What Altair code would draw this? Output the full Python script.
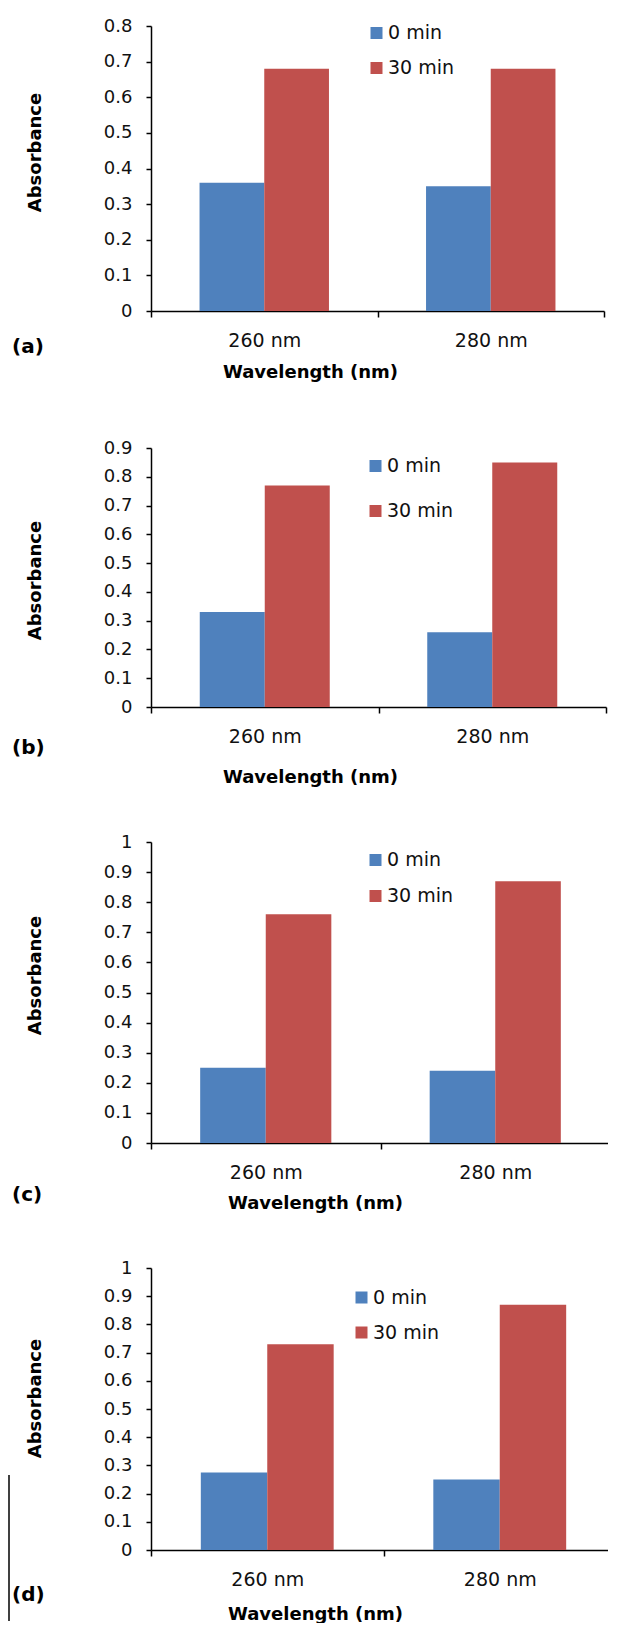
import altair as alt
import pandas as pd

# ---- data ----
categories = ["260 nm", "280 nm"]
series = ["0 min", "30 min"]
colors = ["#4F81BD", "#C0504D"]

a_0min = [0.36, 0.35]
a_30min = [0.68, 0.68]
b_0min = [0.33, 0.26]
b_30min = [0.77, 0.85]
c_0min = [0.25, 0.24]
c_30min = [0.76, 0.87]
d_0min = [0.275, 0.25]
d_30min = [0.73, 0.87]

ticks_a = [0, 0.1, 0.2, 0.3, 0.4, 0.5, 0.6, 0.7, 0.8]
ticks_b = [0, 0.1, 0.2, 0.3, 0.4, 0.5, 0.6, 0.7, 0.8, 0.9]
ticks_cd = [0, 0.1, 0.2, 0.3, 0.4, 0.5, 0.6, 0.7, 0.8, 0.9, 1]

panel_tags = ["(a)", "(b)", "(c)", "(d)"]
y_title = "Absorbance"
x_title = "Wavelength (nm)"

REG = "DejaVu Sans"
BOLD = "DejaVu Sans"


def panel(v0, v30, yticks, tag, width, H, h, leg_x, leg_y, leg_pad,
          ytitle_y, xtitle_x, xtitle_y, tag_y, side_line=False):
    df = pd.DataFrame({
        "Wavelength": categories + categories,
        "Series": [series[0]] * len(categories) + [series[1]] * len(categories),
        "Absorbance": v0 + v30,
    })
    bars = alt.Chart(df).mark_bar().encode(
        x=alt.X("Wavelength:N", sort=categories,
                scale=alt.Scale(paddingInner=0, paddingOuter=0),
                axis=alt.Axis(title=x_title, labelAngle=0, tickBand="extent",
                              tickSize=6, labelPadding=23, labelBaseline="middle",
                              labelFontSize=19,
                              titleX=xtitle_x, titleY=xtitle_y,
                              titleBaseline="middle", titleAlign="center")),
        xOffset=alt.XOffset("Series:N", sort=series,
                            scale=alt.Scale(paddingInner=0, paddingOuter=0.75)),
        y=alt.Y("Absorbance:Q",
                scale=alt.Scale(domain=[0, yticks[-1]], range=[H, H - h], nice=False, zero=True),
                axis=alt.Axis(title=y_title, values=yticks, format="~g",
                              tickSize=5, labelPadding=14, labelFontSize=18,
                              titleX=-116, titleY=ytitle_y,
                              titleBaseline="middle", titleAlign="center")),
        color=alt.Color("Series:N", sort=series,
                        scale=alt.Scale(domain=series, range=colors),
                        legend=alt.Legend(title=None, orient="none",
                                          legendX=leg_x, legendY=leg_y,
                                          rowPadding=leg_pad, symbolType="square",
                                          symbolSize=144, symbolStrokeWidth=0,
                                          labelFontSize=19, labelFont=REG,
                                          labelColor="#111111",
                                          labelOffset=2, padding=0)),
    )
    tag_df = pd.DataFrame({"t": [tag]})
    tag_text = alt.Chart(tag_df).mark_text(
        align="left", baseline="middle", fontSize=20, fontWeight="bold",
        font=BOLD, color="#000000"
    ).encode(x=alt.value(-139), y=alt.value(tag_y), text="t:N")
    layers = [bars, tag_text]
    if side_line:
        line_df = pd.DataFrame({"k": [0]})
        layers.append(alt.Chart(line_df).mark_rule(color="#000000", strokeWidth=1.5).encode(
            x=alt.value(-142), y=alt.value(332), y2=alt.value(478)))
    return alt.layer(*layers).properties(width=width, height=H)


pa = panel(a_0min, a_30min, ticks_a, panel_tags[0], 453, 285, 285,
           216, -2.5, 15, 126, 159, 61, 321)
pb = panel(b_0min, b_30min, ticks_b, panel_tags[1], 455, 396, 259,
           215, 145.5, 25, 269, 159, 70, 437)
pc = panel(c_0min, c_30min, ticks_cd, panel_tags[2], 459, 436, 301,
           215, 143.5, 16, 268, 164, 60, 488)
pd_ = panel(d_0min, d_30min, ticks_cd, panel_tags[3], 465, 407, 282,
            201, 145, 15, 255, 164, 64, 452, side_line=True)

chart = alt.vconcat(pa, pb, pc, pd_, spacing=0, bounds="flush").resolve_scale(
    color="independent", y="independent", x="independent", xOffset="independent"
).resolve_legend(color="independent").properties(
    padding={"left": 0, "top": 9, "right": -9, "bottom": 0}
).configure_view(stroke=None).configure_axis(
    grid=False, domainColor="#000000", domainWidth=1.5, tickColor="#000000",
    tickWidth=1.5, labelFont=REG, labelColor="#111111", titleFont=BOLD,
    titleFontSize=18, titleFontWeight="bold", titleColor="#000000"
)

chart.save("out.html", embed_options={"renderer": "svg", "actions": False})
